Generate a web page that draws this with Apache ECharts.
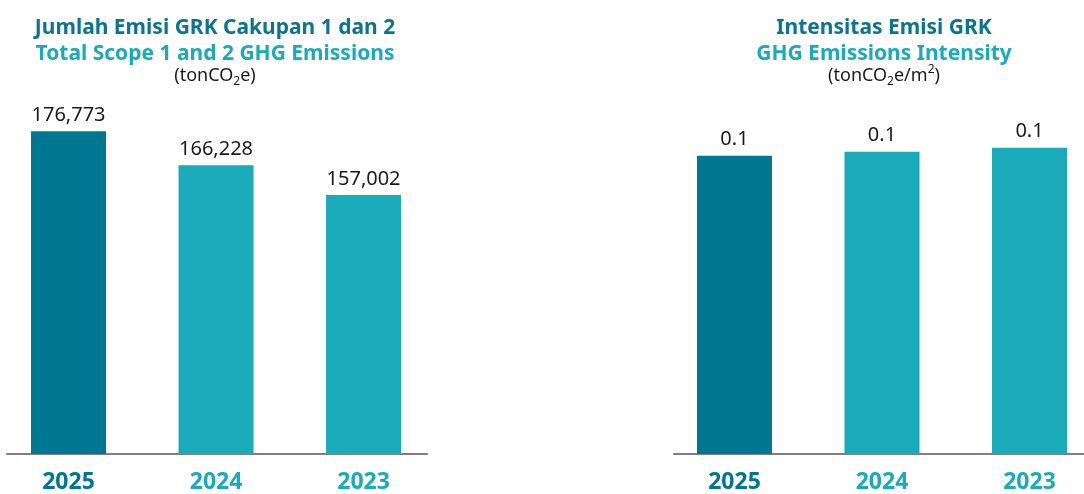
<!DOCTYPE html>
<html>
<head>
<meta charset="utf-8">
<script src="https://cdn.jsdelivr.net/npm/echarts@6/dist/echarts.min.js"></script>
<style>
  html, body { margin: 0; padding: 0; background: #fff; }
  #chart { width: 1084px; height: 494px; }
</style>
</head>
<body>
<div id="chart"></div>
<script>
// data
var years = ['2025', '2024', '2023'];
var emisiTotal = [176773, 166228, 157002];
var emisiIntensitas = [0.0974, 0.0987, 0.1];

var darkTeal = '#007792';
var lightTeal = '#19abb9';
var fontName = 'Noto Sans';

function barColor(p) {
    return p.dataIndex == 0 ? darkTeal : lightTeal;
}
function yearColor(value) {
    return value == 0 ? darkTeal : lightTeal;
}
// bars sit at 0,1,2 on a value x axis so the spacing can be set freely
function withIndex(arr) {
    var out = [];
    for (var i = 0; i < arr.length; i++) {
        out.push([i, arr[i]]);
    }
    return out;
}

var subRich = {
    t: { fontSize: 18, color: '#1a1a1a', fontFamily: fontName, lineHeight: 24 },
    s: { fontSize: 12, color: '#1a1a1a', fontFamily: fontName, lineHeight: 12, verticalAlign: 'bottom' },
    p: { fontSize: 12, color: '#1a1a1a', fontFamily: fontName, lineHeight: 12, verticalAlign: 'top' }
};

function titleLine(text, x, y, color, size, bold) {
    return {
        text: text,
        left: x,
        top: y,
        textAlign: 'center',
        padding: 0,
        textStyle: { color: color, fontSize: size, fontWeight: bold ? 'bold' : 'normal', fontFamily: fontName, rich: subRich }
    };
}

var labelStyle = {
    show: true,
    position: 'top',
    distance: 6,
    color: '#1a1a1a',
    fontSize: 20,
    fontFamily: fontName
};

function xAxisFor(i, min, max) {
    return {
        type: 'value',
        gridIndex: i,
        min: min,
        max: max,
        splitLine: { show: false },
        axisLine: { show: true, lineStyle: { color: '#808080', width: 2 } },
        axisTick: { show: false },
        axisLabel: {
            customValues: [0, 1, 2],
            margin: 17,
            fontSize: 23,
            fontWeight: 'bold',
            fontFamily: fontName,
            color: yearColor,
            formatter: function (v) { return years[v]; }
        }
    };
}

var option = {
    backgroundColor: '#fff',
    animation: false,
    title: [
        titleLine('Jumlah Emisi GRK Cakupan 1 dan 2', 215, 18, '#0b7591', 21, true),
        titleLine('Total Scope 1 and 2 GHG Emissions', 215, 44, lightTeal, 21, true),
        titleLine('{t|(tonCO}{s|2}{t|e)}', 215, 64, '#1a1a1a', 18, false),
        titleLine('Intensitas Emisi GRK', 884, 18, '#0b7591', 21, true),
        titleLine('GHG Emissions Intensity', 884, 44, lightTeal, 21, true),
        titleLine('{t|(tonCO}{s|2}{t|e/m}{p|2}{t|)}', 884, 64, '#1a1a1a', 18, false)
    ],
    grid: [
        { left: 7, width: 420, top: 100, bottom: 38 },
        { left: 674, width: 410, top: 100, bottom: 38 }
    ],
    xAxis: [
        xAxisFor(0, -0.417, 2.43),
        xAxisFor(1, -0.41, 2.3695)
    ],
    yAxis: [
        { type: 'value', gridIndex: 0, min: 76640, max: 186470, show: false },
        { type: 'value', gridIndex: 1, min: 0, max: 0.1156, show: false }
    ],
    series: [
        {
            type: 'bar',
            xAxisIndex: 0,
            yAxisIndex: 0,
            barWidth: 75,
            data: withIndex(emisiTotal),
            itemStyle: { color: barColor },
            label: Object.assign({}, labelStyle, {
                formatter: function (p) { return p.value[1].toLocaleString('en-US'); }
            })
        },
        {
            type: 'bar',
            xAxisIndex: 1,
            yAxisIndex: 1,
            barWidth: 75,
            data: withIndex(emisiIntensitas),
            itemStyle: { color: barColor },
            label: Object.assign({}, labelStyle, {
                formatter: function (p) { return p.value[1].toFixed(1); }
            })
        }
    ]
};

var myChart = echarts.init(document.getElementById('chart'));
myChart.setOption(option);
window.onresize = myChart.resize;
</script>
</body>
</html>
